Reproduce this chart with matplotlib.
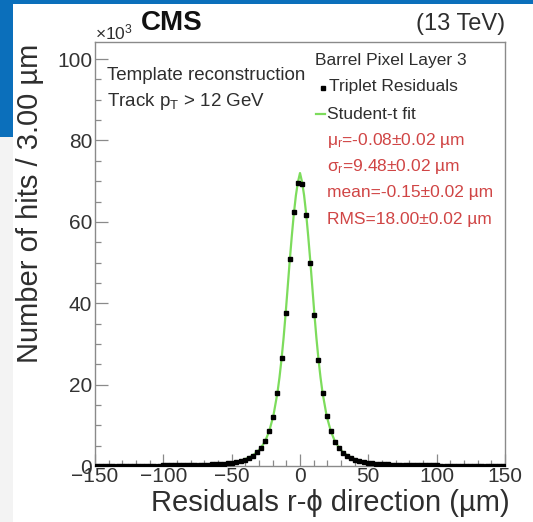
import numpy as np
import matplotlib
matplotlib.use("Agg")
import matplotlib.pyplot as plt
from matplotlib.patches import Rectangle
from matplotlib.ticker import MultipleLocator

plt.rcParams['font.family'] = ['Liberation Sans', 'DejaVu Sans']
plt.rcParams['mathtext.fontset'] = 'custom'
plt.rcParams['mathtext.rm'] = 'Liberation Sans'
plt.rcParams['mathtext.it'] = 'Liberation Sans:italic'

# residual histogram, 3 um bins from -150 to 150, counts in 10^3 hits
bin_lo = -150
bin_w = 3
hits_left = [0.06, 0.06, 0.06, 0.07, 0.07, 0.07, 0.08, 0.08, 0.08, 0.09,
             0.09, 0.10, 0.10, 0.11, 0.11, 0.12, 0.13, 0.14, 0.15, 0.16,
             0.18, 0.19, 0.21, 0.23, 0.25, 0.28, 0.31, 0.35, 0.39, 0.44,
             0.50, 0.58, 0.68, 0.80, 0.95, 1.2, 1.5, 1.9, 2.5, 3.4,
             4.5, 6.2, 8.5, 12.1, 17.9, 26.5, 37.7, 50.8, 62.3, 69.5]
hits_right = [69.3, 61.7, 50.0, 37.2, 26.1, 17.9, 12.3, 8.6, 5.8, 4.4,
              3.3, 2.5, 1.9, 1.5, 1.2, 0.95, 0.80, 0.68, 0.58, 0.50,
              0.44, 0.39, 0.35, 0.31, 0.28, 0.25, 0.23, 0.21, 0.19, 0.18,
              0.16, 0.15, 0.14, 0.13, 0.12, 0.11, 0.11, 0.10, 0.10, 0.09,
              0.09, 0.08, 0.08, 0.08, 0.07, 0.07, 0.07, 0.06, 0.06, 0.06]

# Student-t fit curve
fit_x = [-150, -120, -100, -80, -70, -60, -50, -45, -40, -35, -31.5, -28.5,
         -25.5, -22.5, -19.5, -16.5, -15, -13.5, -12, -10.5, -9, -7.5, -6,
         -4.5, -3, -1.5, 0, 1.5, 3, 4.5, 6, 7.5, 9, 10.5, 12, 13.5, 15, 16.5,
         19.5, 22.5, 25.5, 28.5, 31.5, 35, 40, 45, 50, 60, 70, 80, 100, 120, 150]
fit_y = [0.05, 0.08, 0.12, 0.22, 0.32, 0.5, 0.85, 1.15, 1.7, 2.5, 3.4, 4.5,
         6.1, 8.6, 12.3, 18.0, 21.8, 26.3, 31.5, 37.5, 44.0, 50.5, 56.5,
         62.0, 66.5, 69.8, 72.0, 69.8, 66.5, 62.0, 56.5, 50.5, 44.0, 37.5, 31.5, 26.3, 21.8, 18.0,
         12.3, 8.6, 6.1, 4.5, 3.4, 2.5, 1.7, 1.15, 0.85, 0.5, 0.32, 0.22, 0.12, 0.08, 0.05]

fit_results = ["$\\mathregular{\\mu_r}$=-0.08\u00b10.02 \u00b5m",
               "$\\mathregular{\\sigma_r}$=9.48\u00b10.02 \u00b5m",
               "mean=-0.15\u00b10.02 \u00b5m",
               "RMS=18.00\u00b10.02 \u00b5m"]

hits = hits_left + hits_right
centers = bin_lo + bin_w / 2 + bin_w * np.arange(len(hits))

W, H = 533, 522
fig = plt.figure(figsize=(W / 100, H / 100), dpi=100)
fig.patch.set_facecolor('white')

# slide background bits
blue = '#0b6fbb'
fig.add_artist(Rectangle((0, 1 - 4 / H), 1, 4 / H, transform=fig.transFigure, color=blue, lw=0))
fig.add_artist(Rectangle((0, 1 - 137 / H), 13 / W, 137 / H, transform=fig.transFigure, color=blue, lw=0))
fig.add_artist(Rectangle((0, 0), 13 / W, 1 - 137 / H, transform=fig.transFigure, color='#f3f3f3', lw=0))

ax = fig.add_axes([95 / W, 1 - 466 / H, 410 / W, 424 / H])
ax.set_xlim(-150, 150)
ax.set_ylim(0, 104.2)

ax.plot(fit_x, fit_y, color='#7ddc5c', lw=1.6, zorder=2)
ax.plot(centers, hits, 's', color='black', ms=3.0, zorder=3)

gray = '#8a8a8a'
for s in ax.spines.values():
    s.set_color(gray)
    s.set_linewidth(1.0)
ax.xaxis.set_major_locator(MultipleLocator(50))
ax.xaxis.set_minor_locator(MultipleLocator(10))
ax.yaxis.set_major_locator(MultipleLocator(20))
ax.yaxis.set_minor_locator(MultipleLocator(5))
ax.tick_params(which='both', direction='in', color=gray, labelcolor='#333333', labelsize=15)
ax.tick_params(which='major', length=9, width=0.9)
ax.tick_params(which='minor', length=4.5, width=0.9)
ax.tick_params(axis='x', pad=1)
ax.tick_params(axis='y', pad=2)

tc = '#2e2e2e'
fig.text(30 / W, 1 - 44 / H, "Number of hits / 3.00 \u00b5m", rotation=90,
         ha='center', va='top', fontsize=21, color=tc)
fig.text(510 / W, 1 - 503 / H, "Residuals r-\u03d5 direction (\u00b5m)",
         ha='right', va='center', fontsize=21, color=tc)

fig.text(95 / W, 1 - 32 / H, "\u00d710$^\\mathregular{3}$", ha='left', va='center', fontsize=12.5, color=tc)
fig.text(141 / W, 1 - 23 / H, "CMS", ha='left', va='center', fontsize=20, fontweight='bold', color='#111111')
fig.text(505 / W, 1 - 24 / H, "(13 TeV)", ha='right', va='center', fontsize=17, color=tc)

fig.text(107 / W, 1 - 76 / H, "Template reconstruction", ha='left', va='center', fontsize=13.5, color=tc)
fig.text(107 / W, 1 - 101 / H, "Track p$_\\mathregular{T}$ > 12 GeV", ha='left', va='center', fontsize=13.5, color=tc)

fig.text(315 / W, 1 - 61 / H, "Barrel Pixel Layer 3", ha='left', va='center', fontsize=12.5, color=tc)
fig.add_artist(plt.Line2D([323 / W], [1 - 88 / H], marker='s', ms=2.5, color='black', transform=fig.transFigure))
fig.text(329 / W, 1 - 87 / H, "Triplet Residuals", ha='left', va='center', fontsize=12.5, color=tc)
fig.add_artist(plt.Line2D([316 / W, 325 / W], [1 - 114 / H, 1 - 114 / H], color='#7ddc5c', lw=1.6,
                          transform=fig.transFigure))
fig.text(327 / W, 1 - 114 / H, "Student-t fit", ha='left', va='center', fontsize=12.5, color=tc)

for i, s in enumerate(fit_results):
    fig.text(327 / W, 1 - (140 + 26.5 * i) / H, s, ha='left', va='center', fontsize=12.5, color='#d04545')

fig.savefig("out.png", dpi=100)
